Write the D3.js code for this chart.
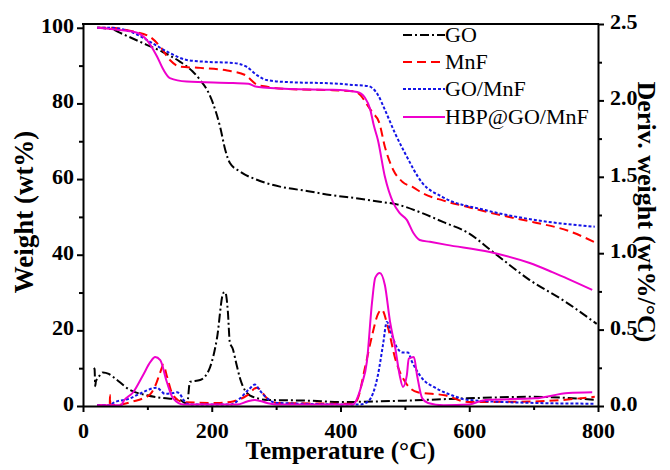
<!DOCTYPE html>
<html>
<head>
<meta charset="utf-8">
<script src="https://cdn.jsdelivr.net/npm/d3@7"></script>
<style>
  html, body { margin: 0; padding: 0; background: #fff; }
  svg { display: block; }
</style>
</head>
<body>
<svg id="chart" width="670" height="470"></svg>
<script>
// ---- TGA curves: temperature (°C) and remaining weight (wt%) ----
const goT   = [22, 45, 57, 99, 124, 151, 170, 182, 193, 202, 213, 221, 228, 244, 275, 306, 350, 384, 430, 461, 485, 527, 560, 598, 637, 694, 750, 798];
const goW   = [100, 99.6, 98.7, 95.5, 93.6, 91, 88.5, 86.2, 83.5, 80, 73.8, 67.7, 64.3, 62, 59.5, 58, 56.8, 55.8, 54.8, 54, 53.4, 51, 48.6, 45.8, 40.7, 33.3, 27.5, 21.7];

const mnfT  = [22, 42, 78, 104, 120, 135, 151, 182, 224, 252, 270, 286, 317, 388, 420, 432, 440, 450, 460, 469, 482, 496, 513, 527, 560, 598, 640, 700, 754, 795];
const mnfW  = [100, 100, 99, 97.6, 95, 91.5, 89.7, 89.4, 88.7, 87.5, 85, 84.4, 83.8, 83.5, 83.2, 82, 80, 77.5, 75, 68.5, 62.4, 59.3, 57.8, 56.3, 54.3, 52.6, 50.8, 48.6, 46.3, 43.3];

const gmT   = [22, 42, 78, 104, 135, 161, 192, 233, 254, 270, 285, 322, 388, 418, 443, 458, 469, 485, 500, 527, 558, 625, 702, 795];
const gmW   = [100, 100, 98.7, 96.3, 93.3, 91.5, 91, 90.7, 89.7, 87.5, 86.2, 85.6, 85.3, 84.9, 84.6, 82.3, 78.3, 72, 66.9, 59, 55.3, 51.8, 49.2, 47.4];

const hbpT  = [22, 53, 84, 99, 115, 125, 135, 161, 233, 257, 270, 322, 388, 426, 438, 446, 452, 458, 469, 482, 492, 503, 513, 523, 539, 565, 632, 694, 729, 791];
const hbpW  = [100, 99.5, 98.7, 96.8, 92.4, 88.9, 86.7, 85.8, 85.4, 85.2, 84.4, 83.8, 83.6, 83, 81.5, 78.5, 74, 70.4, 60.6, 53.7, 51, 49.2, 45.8, 43.9, 43.4, 42.6, 40.7, 37.8, 35.4, 30.7];

// ---- DTG curves: temperature (°C) and derivative weight (wt%/°C) ----
const goDT  = [17, 18, 19, 20, 26, 31, 40, 47, 73, 99, 124, 151, 158, 162, 166, 182, 197, 208, 218, 221, 225, 228, 233, 238, 244, 259, 286, 350, 400, 500, 596, 699, 798];
const goD   = [0.25, 0.24, 0.13, 0.16, 0.2, 0.22, 0.21, 0.19, 0.105, 0.07, 0.052, 0.04, 0.02, 0.02, 0.157, 0.17, 0.25, 0.44, 0.74, 0.745, 0.62, 0.42, 0.37, 0.28, 0.18, 0.07, 0.04, 0.035, 0.026, 0.035, 0.05, 0.06, 0.04];

const mnfDT = [22, 41.5, 42, 42.5, 60, 78, 93, 105, 112, 120, 125, 130, 140, 156, 208, 233, 255, 270, 286, 301, 420, 427, 438, 449, 458, 464, 474, 485, 500, 520, 562, 598, 702, 795];
const mnfD  = [0.005, 0.005, 0.07, 0.005, 0.01, 0.03, 0.05, 0.08, 0.13, 0.22, 0.27, 0.2, 0.07, 0.025, 0.02, 0.03, 0.07, 0.12, 0.05, 0.02, 0.015, 0.05, 0.25, 0.46, 0.6, 0.63, 0.51, 0.31, 0.16, 0.09, 0.07, 0.026, 0.03, 0.06];

const gmDT  = [22, 42, 47, 73, 88, 115, 121, 127, 140, 146, 152, 156, 166, 230, 244, 258, 267, 275, 286, 301, 430, 443, 458, 466, 472, 480, 488, 497, 505, 510, 516, 527, 547, 573, 598, 702, 795];
const gmD   = [0.005, 0.005, 0.02, 0.05, 0.08, 0.12, 0.1, 0.08, 0.085, 0.09, 0.07, 0.04, 0.01, 0.01, 0.05, 0.11, 0.14, 0.1, 0.05, 0.02, 0.01, 0.03, 0.2, 0.4, 0.55, 0.46, 0.38, 0.35, 0.35, 0.3, 0.25, 0.18, 0.12, 0.07, 0.04, 0.02, 0.015];

const hbpDT = [22, 60, 62, 78, 93, 105, 112, 120, 130, 140, 156, 240, 255, 267, 286, 300, 420, 423, 433, 441, 449, 454, 461, 469, 477, 485, 492, 497, 503, 506, 514, 519, 527, 536, 560, 600, 625, 702, 754, 791];
const hbpD  = [0.005, 0.005, 0.025, 0.09, 0.2, 0.29, 0.32, 0.3, 0.16, 0.05, 0.01, 0.01, 0.03, 0.04, 0.02, 0.01, 0.01, 0.025, 0.14, 0.29, 0.68, 0.84, 0.87, 0.79, 0.55, 0.38, 0.2, 0.125, 0.2, 0.31, 0.32, 0.2, 0.05, 0.02, 0.005, 0.01, 0.04, 0.05, 0.085, 0.09];

// ---- axis ticks and legend ----
const xTicks      = [0, 200, 400, 600, 800];
const xMinor      = [100, 300, 500, 700];
const leftTicks   = [0, 20, 40, 60, 80, 100];
const leftMinor   = [10, 30, 50, 70, 90];
const rightTicks  = [0, 0.5, 1.0, 1.5, 2.0, 2.5];
const rightMinor  = [0.25, 0.75, 1.25, 1.75, 2.25];
const seriesNames = ["GO", "MnF", "GO/MnF", "HBP@GO/MnF"];
const seriesColors = ["#000000", "#ff0000", "#1414e6", "#ee00cc"];
const seriesDashes = ["9,3,2,3", "9,5", "3,2", null];

const SERIF = "Liberation Serif";

const svg = d3.select("#chart");
const L = 83, R = 598, T = 24, B = 406;

const x = d3.scaleLinear().domain([0, 800]).range([L, R]);
const yW = d3.scaleLinear().domain([0, 101]).range([B, T]);
const yD = d3.scaleLinear().domain([0, 2.5]).range([B, T]);

svg.append("defs").append("clipPath").attr("id", "plot")
  .append("rect").attr("x", L).attr("y", T - 2).attr("width", R - L).attr("height", B - T + 2);

const plot = svg.append("g").attr("clip-path", "url(#plot)");

const tga = [[goT, goW], [mnfT, mnfW], [gmT, gmW], [hbpT, hbpW]];
const dtg = [[goDT, goD], [mnfDT, mnfD], [gmDT, gmD], [hbpDT, hbpD]];

const lineW = d3.line().x(d => x(d[0])).y(d => yW(d[1])).curve(d3.curveMonotoneX);
const lineD = d3.line().x(d => x(d[0])).y(d => yD(d[1])).curve(d3.curveMonotoneX);

function drawSeries(arr, gen) {
  arr.forEach((s, i) => {
    const pts = s[0].map((t, k) => [t, s[1][k]]);
    plot.append("path")
      .attr("d", gen(pts))
      .attr("fill", "none")
      .attr("stroke", seriesColors[i])
      .attr("stroke-width", 2)
      .attr("stroke-dasharray", seriesDashes[i]);
  });
}
drawSeries(tga, lineW);
drawSeries(dtg, lineD);

// ---- axes ----
function styleAxis(g) {
  g.attr("font-family", SERIF).attr("font-size", 22).attr("font-weight", "bold");
  g.selectAll("path.domain").attr("stroke", "#000").attr("stroke-width", 2);
  g.selectAll(".tick line").attr("stroke", "#000").attr("stroke-width", 2);
  g.selectAll(".tick text").attr("fill", "#000");
}
function minorTicks(g) {
  g.select(".domain").remove();
  g.selectAll("line").attr("stroke", "#000").attr("stroke-width", 2);
}

// bottom
const gx = svg.append("g").attr("transform", `translate(0,${B})`)
  .call(d3.axisBottom(x).tickValues(xTicks).tickSize(6).tickSizeOuter(0).tickPadding(6).tickFormat(d3.format("d")));
styleAxis(gx);
gx.selectAll(".tick text").attr("dy", "0.9em");
svg.append("g").attr("transform", `translate(0,${B})`)
  .call(d3.axisBottom(x).tickValues(xMinor).tickSize(4).tickSizeOuter(0).tickFormat(""))
  .call(minorTicks);

// left
const gl = svg.append("g").attr("transform", `translate(${L},0)`)
  .call(d3.axisLeft(yW).tickValues(leftTicks).tickSize(6).tickSizeOuter(0).tickPadding(3).tickFormat(d3.format("d")));
styleAxis(gl);
gl.selectAll(".tick text").attr("dy", "0.2em");
svg.append("g").attr("transform", `translate(${L},0)`)
  .call(d3.axisLeft(yW).tickValues(leftMinor).tickSize(4).tickSizeOuter(0).tickFormat(""))
  .call(minorTicks);

// right
const gr = svg.append("g").attr("transform", `translate(${R},0)`)
  .call(d3.axisRight(yD).tickValues(rightTicks).tickSize(6).tickSizeOuter(0).tickPadding(6).tickFormat(d3.format(".1f")));
styleAxis(gr);
gr.selectAll(".tick text").attr("dy", "0.2em");
svg.append("g").attr("transform", `translate(${R},0)`)
  .call(d3.axisRight(yD).tickValues(rightMinor).tickSize(4).tickSizeOuter(0).tickFormat(""))
  .call(minorTicks);

// top frame line
svg.append("line").attr("x1", L - 1).attr("x2", R + 1).attr("y1", T).attr("y2", T)
  .attr("stroke", "#000").attr("stroke-width", 2);

// ---- axis titles ----
svg.append("text")
  .attr("x", (L + R) / 2).attr("y", 459)
  .attr("text-anchor", "middle")
  .attr("font-family", SERIF).attr("font-weight", "bold").attr("font-size", 25)
  .text("Temperature (°C)");

svg.append("text")
  .attr("transform", "translate(33,212) rotate(-90)")
  .attr("text-anchor", "middle")
  .attr("font-family", SERIF).attr("font-weight", "bold").attr("font-size", 27)
  .text("Weight (wt%)");

svg.append("text")
  .attr("transform", "translate(638,212) rotate(90)")
  .attr("text-anchor", "middle")
  .attr("font-family", SERIF).attr("font-weight", "bold").attr("font-size", 26)
  .text("Deriv. weight (wt%/°C)");

// ---- legend ----
const legendRows = [35, 62, 89, 117];
const leg = svg.append("g");
seriesNames.forEach((name, i) => {
  leg.append("line")
    .attr("x1", 403).attr("x2", 445)
    .attr("y1", legendRows[i]).attr("y2", legendRows[i])
    .attr("stroke", seriesColors[i]).attr("stroke-width", 2)
    .attr("stroke-dasharray", seriesDashes[i]);
  leg.append("text")
    .attr("x", 445).attr("y", legendRows[i]).attr("dy", "0.33em")
    .attr("font-family", SERIF).attr("font-size", 22)
    .attr("fill", "#000")
    .text(name);
});
</script>
</body>
</html>
